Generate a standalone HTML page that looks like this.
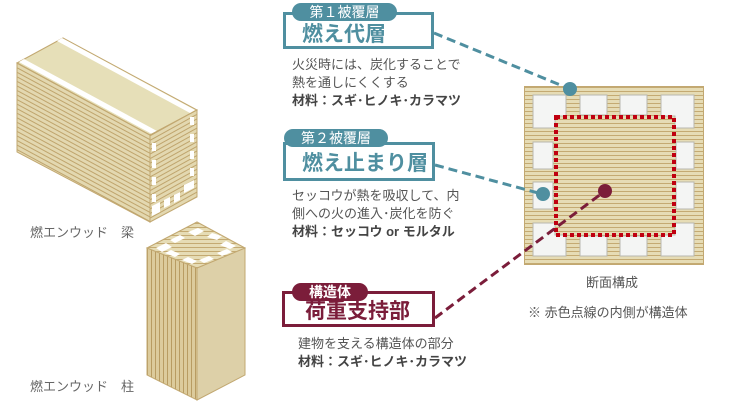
<!DOCTYPE html>
<html><head><meta charset="utf-8"><style>
body{margin:0;width:732px;height:412px;background:#fff;position:relative;overflow:hidden;font-family:"Liberation Sans","Noto Sans CJK JP",sans-serif;color:#555;}
.a{position:absolute;white-space:nowrap;}
.box{position:absolute;box-sizing:border-box;background:#fff;}
.pill{position:absolute;color:#fff;font-size:14px;line-height:18px;text-align:center;border-radius:9px;}
.t{font-size:13px;line-height:18px;color:#555;}
.b{font-weight:bold;color:#444;}
</style></head><body>
<svg class="a" style="left:0;top:0" width="732" height="412">
<defs>
<pattern id="hs" width="6" height="4" patternUnits="userSpaceOnUse"><rect width="6" height="4" fill="#e6dcb5"/><rect y="3" width="6" height="1" fill="#c4aa72"/></pattern>
<pattern id="hsr" width="6" height="4" patternUnits="userSpaceOnUse" patternTransform="rotate(28.4)"><rect width="6" height="4" fill="#e3d8b0"/><rect y="3" width="6" height="1.2" fill="#bfa46c"/></pattern>
<pattern id="hse" width="6" height="4" patternUnits="userSpaceOnUse" patternTransform="rotate(-29)"><rect width="6" height="4" fill="#e3d8b0"/><rect y="3" width="6" height="1.2" fill="#bfa46c"/></pattern>
<pattern id="vs" width="4" height="6" patternUnits="userSpaceOnUse"><rect width="4" height="6" fill="#dccb9c"/><rect x="3" width="1.2" height="6" fill="#b89c62"/></pattern>
</defs>
<!-- beam -->
<polygon points="17,63 63,38 197,110 150,135" fill="#e6dfb8" stroke="#c2a871"/>
<polygon points="19,62 24,59 157,131 152,134" fill="#fff"/>
<polygon points="57,41 62,38 195,110 190,113" fill="#fff"/>
<polygon points="17,63 150,135 150,222 17,152" fill="url(#hsr)" stroke="#c2a871"/>
<polygon points="150,135 197,110 197,197 150,222" fill="url(#hse)" stroke="#c2a871"/>
<g fill="#fff">
<rect x="152" y="143" width="4" height="8"/><rect x="152" y="160" width="4" height="8"/><rect x="152" y="177" width="4" height="8"/><rect x="152" y="194" width="4" height="8"/>
<rect x="190" y="117" width="4" height="8"/><rect x="190" y="134" width="4" height="8"/><rect x="190" y="151" width="4" height="8"/><rect x="190" y="168" width="4" height="8"/>
<polygon points="152,206 160,202 160,212 152,216"/><polygon points="164,200 170,197 170,205 164,208"/><polygon points="174,195 180,192 180,200 174,203"/><polygon points="184,185 194,180 194,188 184,193"/>
</g>
<!-- column -->
<polygon points="147,248 197,268 197,400 147,375" fill="url(#vs)" stroke="#c2a871"/>
<polygon points="197,268 245,248 245,375 197,400" fill="#ddd0a8" stroke="#c2a871"/>
<polygon points="147,248 197,222 245,248 197,268" fill="url(#hs)" stroke="#c2a871"/>
<g fill="#fff">
<polygon points="156,248 166,243 172,247 162,252"/><polygon points="170,240 180,235 185,238 175,243"/><polygon points="188,232 198,228 204,231 195,236"/>
<polygon points="212,233 222,236 217,240 207,237"/><polygon points="226,241 236,246 230,249 220,245"/>
<polygon points="232,252 222,256 217,253 227,249"/><polygon points="214,259 204,263 199,260 209,256"/><polygon points="192,264 182,260 188,257 197,261"/><polygon points="175,257 165,253 171,250 180,254"/>
</g>
<!-- cross-section -->
<rect x="524.5" y="86.5" width="179" height="178" fill="url(#hs)" stroke="#c2a871"/>
<g fill="#f4f5f4" stroke="#b8b8b0" stroke-width="1">
<polygon points="533,95 566,95 566,116 555,116 555,128 533,128"/>
<rect x="580" y="95" width="27" height="20"/><rect x="620" y="95" width="27" height="20"/>
<polygon points="661,95 694,95 694,128 675,128 675,116 661,116"/>
<rect x="533" y="142" width="20" height="27"/><rect x="533" y="182" width="20" height="27"/>
<rect x="676" y="142" width="18" height="27"/><rect x="676" y="182" width="18" height="27"/>
<polygon points="533,223 555,223 555,235 566,235 566,256 533,256"/>
<rect x="580" y="236" width="27" height="20"/><rect x="620" y="236" width="27" height="20"/>
<polygon points="675,223 694,223 694,256 661,256 661,235 675,235"/>
</g>
<rect x="556" y="117" width="118" height="118" fill="none" stroke="#c00010" stroke-width="4" stroke-dasharray="4,3"/>
<!-- connectors -->
<line x1="434" y1="33" x2="570" y2="89" stroke="#4f8fa0" stroke-width="3" stroke-dasharray="9,5"/>
<circle cx="570" cy="89" r="7" fill="#4f8fa0"/>
<line x1="435" y1="165" x2="542" y2="194" stroke="#4f8fa0" stroke-width="3" stroke-dasharray="9,5"/>
<circle cx="543" cy="194" r="7" fill="#4f8fa0"/>
<line x1="435" y1="318" x2="605" y2="191" stroke="#7b1d3a" stroke-width="3" stroke-dasharray="9,5"/>
<circle cx="605" cy="191" r="7" fill="#7b1d3a"/>
</svg>

<div class="a" style="left:30px;top:222px;font-size:13px;color:#666;">燃エンウッド　梁</div>
<div class="a" style="left:30px;top:376px;font-size:13px;color:#666;">燃エンウッド　柱</div>

<div class="box" style="left:283px;top:12px;width:151px;height:37px;border:3px solid #4f8fa0;"></div>
<div class="pill" style="left:292px;top:3px;width:105px;background:#4f8fa0;">第１被覆層</div>
<div class="a" style="left:302px;top:23px;font-size:21px;font-weight:bold;color:#4f8fa0;line-height:24px;">燃え代層</div>
<div class="a t" style="left:292px;top:56px;">火災時には、炭化することで<br>熱を通しにくくする<br><span class="b">材料：スギ･ヒノキ･カラマツ</span></div>

<div class="box" style="left:283px;top:142px;width:152px;height:39px;border:3px solid #4f8fa0;"></div>
<div class="pill" style="left:284px;top:129px;width:104px;background:#4f8fa0;">第２被覆層</div>
<div class="a" style="left:302px;top:152px;font-size:21px;font-weight:bold;color:#4f8fa0;line-height:24px;">燃え止まり層</div>
<div class="a t" style="left:292px;top:187px;">セッコウが熱を吸収して、内<br>側への火の進入･炭化を防ぐ<br><span class="b">材料：セッコウ or モルタル</span></div>

<div class="box" style="left:282px;top:291px;width:153px;height:36px;border:3px solid #7b1d3a;"></div>
<div class="pill" style="left:292px;top:283px;width:76px;background:#7b1d3a;font-weight:bold;">構造体</div>
<div class="a" style="left:305px;top:300px;font-size:21px;font-weight:bold;color:#7b1d3a;line-height:24px;">荷重支持部</div>
<div class="a t" style="left:298px;top:335px;">建物を支える構造体の部分<br><span class="b">材料：スギ･ヒノキ･カラマツ</span></div>

<div class="a" style="left:586px;top:272px;font-size:13px;color:#555;">断面構成</div>
<div class="a" style="left:528px;top:302px;font-size:13px;color:#555;">※ 赤色点線の内側が構造体</div>
</body></html>
